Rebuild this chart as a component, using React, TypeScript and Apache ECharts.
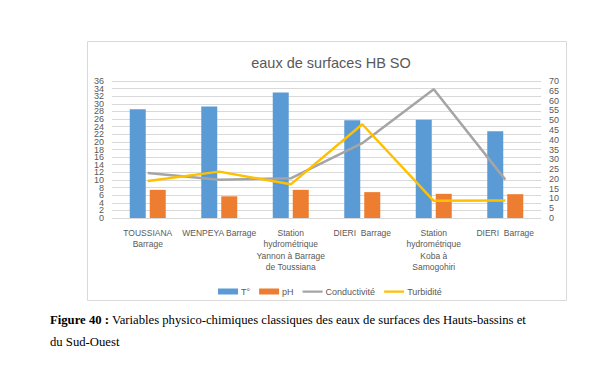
import React, { useEffect, useRef } from "react";
import * as echarts from "echarts";

const categories = [
  "TOUSSIANA\nBarrage",
  "WENPEYA Barrage",
  "Station\nhydrométrique\nYannon à Barrage\nde Toussiana",
  "DIERI  Barrage",
  "Station\nhydrométrique\nKoba à\nSamogohiri",
  "DIERI  Barrage",
];
const temperature = [28.6, 29.3, 33.0, 25.7, 25.8, 22.8];
const ph = [7.4, 5.7, 7.4, 6.8, 6.35, 6.26];
const conductivite = [23.0, 19.5, 20.3, 38.2, 65.8, 19.6];
const turbidite = [18.9, 23.7, 17.2, 47.9, 8.8, 9.0];

const leftTickLabels = ["0", "2", "4", "6", "8", "10", "12", "14", "16", "18", "20", "22", "24", "26", "28", "30", "32", "34", "36"];
const leftTicks = { min: 0, max: 36, interval: 2 };
const rightTicks = { min: 0, max: 70, interval: 5 };

const axisFont = "'Liberation Sans', Arial, sans-serif";
const textColor = "#595959";
const lineIcon = "path://M0,0 L0.01,0 Z M0,2 L20,2 L20,4.2 L0,4.2 Z M0,6 L0.01,6 Z";

export default function App() {
  const ref = useRef<HTMLDivElement>(null);
  useEffect(() => {
    if (!ref.current) return;
    const chart = echarts.init(ref.current, undefined, { renderer: "svg" });
    chart.setOption({
      animation: false,
      backgroundColor: "#ffffff",
      title: {
        text: "eaux de surfaces HB SO",
        left: 326,
        top: 50,
        textAlign: "center",
        textStyle: {
          fontFamily: axisFont,
          fontSize: 14.5,
          fontWeight: "normal",
          color: textColor,
        },
      },
      legend: {
        left: 213,
        top: 282,
        itemWidth: 20,
        itemHeight: 6,
        itemGap: 9,
        textStyle: { fontFamily: axisFont, fontSize: 9, color: textColor, padding: [0, 0, 0, -2] },
        data: [
          { name: "T°", icon: "rect" },
          { name: "pH", icon: "rect" },
          { name: "Conductivité", icon: lineIcon },
          { name: "Turbidité", icon: lineIcon },
        ],
      },
      grid: { left: 112, right: 59, top: 81, bottom: 148 },
      xAxis: {
        type: "category",
        data: categories,
        axisLine: { show: false },
        axisTick: { show: false },
        axisLabel: {
          interval: 0,
          fontFamily: axisFont,
          fontSize: 8.5,
          lineHeight: 11.5,
          color: textColor,
          margin: 9,
        },
      },
      yAxis: [
        {
          type: "value",
          min: leftTicks.min,
          max: leftTicks.max,
          interval: leftTicks.interval,
          axisLine: { show: false },
          axisTick: { show: false },
          splitLine: { lineStyle: { color: "#d9d9d9", width: 1 } },
          axisLabel: { show: false },
        },
        {
          type: "value",
          min: rightTicks.min,
          max: rightTicks.max,
          interval: rightTicks.interval,
          axisLine: { show: false },
          axisTick: { show: false },
          splitLine: { show: false },
          axisLabel: {
            fontFamily: axisFont,
            fontSize: 9,
            lineHeight: 8,
            color: textColor,
            margin: 8,
            showMinLabel: true,
            showMaxLabel: true,
          },
        },
        {
          type: "category",
          position: "left",
          data: leftTickLabels,
          boundaryGap: false,
          axisLine: { show: false },
          axisTick: { show: false },
          splitLine: { show: false },
          axisLabel: {
            interval: 0,
            fontFamily: axisFont,
            fontSize: 9,
            lineHeight: 7.2,
            color: textColor,
            margin: 8,
          },
        },
      ],
      series: [
        {
          name: "T°",
          type: "bar",
          data: temperature,
          barWidth: 16,
          barGap: "25%",
          itemStyle: { color: "#5b9bd5" },
        },
        {
          name: "pH",
          type: "bar",
          data: ph,
          barWidth: 16,
          itemStyle: { color: "#ed7d31" },
        },
        {
          name: "Conductivité",
          type: "line",
          yAxisIndex: 1,
          data: conductivite,
          symbol: "none",
          lineStyle: { color: "#a5a5a5", width: 2.5 },
          itemStyle: { color: "#a5a5a5" },
        },
        {
          name: "Turbidité",
          type: "line",
          yAxisIndex: 1,
          data: turbidite,
          symbol: "none",
          lineStyle: { color: "#ffc000", width: 2.5 },
          itemStyle: { color: "#ffc000" },
        },
      ],
      graphic: [
        {
          type: "rect",
          shape: { x: 87.5, y: 41.5, width: 479, height: 259 },
          style: { fill: "none", stroke: "#d9d9d9", lineWidth: 1 },
          silent: true,
          z: -1,
        },
        {
          type: "text",
          x: 50,
          y: 320,
          style: {
            text: "{b|Figure 40 :} Variables physico-chimiques classiques des eaux de surfaces des Hauts-bassins et",
            fontFamily: "'Liberation Serif', 'Times New Roman', serif",
            fontSize: 12.7,
            fill: "#000000",
            verticalAlign: "middle",
            rich: {
              b: {
                fontFamily: "'Liberation Serif', 'Times New Roman', serif",
                fontSize: 12.7,
                fontWeight: "bold",
                fill: "#000000",
              },
            },
          },
        },
        {
          type: "text",
          x: 50,
          y: 342,
          style: {
            text: "du Sud-Ouest",
            fontFamily: "'Liberation Serif', 'Times New Roman', serif",
            fontSize: 12.7,
            fill: "#000000",
            verticalAlign: "middle",
          },
        },
      ],
    });
    return () => chart.dispose();
  }, []);
  return (
    <div
      ref={ref}
      style={{ position: "absolute", left: 0, top: 0, width: 600, height: 366 }}
    />
  );
}
